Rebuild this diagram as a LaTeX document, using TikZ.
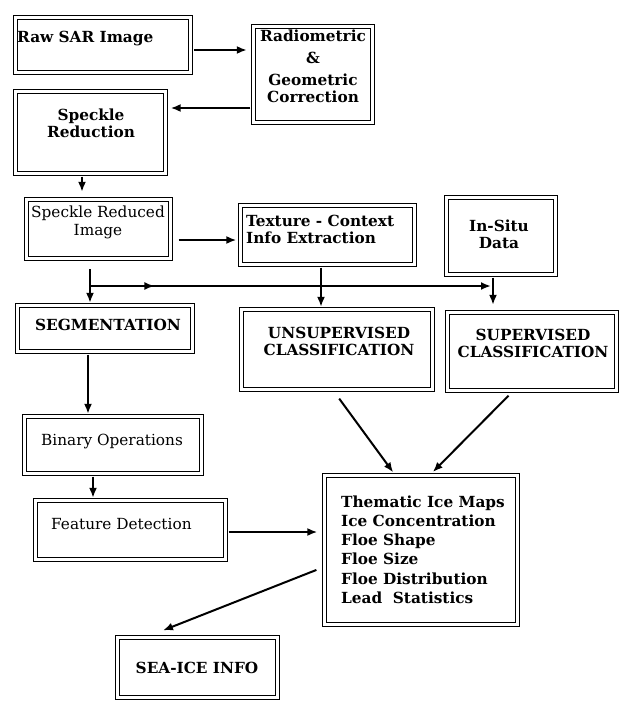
\documentclass[tikz,border=0pt]{standalone}
\usepackage{fontspec}
\setmainfont{DejaVu Serif}
\usetikzlibrary{fit,arrows.meta,decorations.markings}
\begin{document}
\begin{tikzpicture}[x=1pt,y=-1pt,
  box/.style={draw=black, double=white, line width=1.3pt, double distance=2.2pt, inner sep=0pt},
  tb/.style={inner sep=0pt, anchor=base, font=\bfseries\fontsize{15.3}{17}\selectfont},
  tr/.style={inner sep=0pt, anchor=base, font=\fontsize{15.3}{18}\selectfont},
  arr/.style={line width=2pt, -{Latex[length=10pt,width=8pt]}},
  plain/.style={line width=2pt}
]
\useasboundingbox[fill=white] (0,0) rectangle (621,701);

% boxes
\node[box, fit={(15.5,17.5) (190.5,72.5)}] (raw) {};
\node[box, fit={(253.5,26.5) (372.5,122.5)}] (radio) {};
\node[box, fit={(15.5,91.5) (165.5,173.5)}] (speck) {};
\node[box, fit={(26.5,199.5) (170.5,258.5)}] (sri) {};
\node[box, fit={(240.5,205.5) (414.5,264.5)}] (tex) {};
\node[box, fit={(446.5,197.5) (555.5,274.5)}] (insitu) {};
\node[box, fit={(17.5,305.5) (192.5,351.5)}] (seg) {};
\node[box, fit={(241.5,309.5) (432.5,389.5)}] (unsup) {};
\node[box, fit={(447.5,312.5) (616.5,390.5)}] (sup) {};
\node[box, fit={(24.5,416.5) (201.5,473.5)}] (bin) {};
\node[box, fit={(35.5,500.5) (225.5,559.5)}] (feat) {};
\node[box, fit={(324.5,475.5) (517.5,624.5)}] (them) {};
\node[box, fit={(117.5,637.5) (277.5,697.5)}] (sea) {};

% texts (multi-line nodes: base = last line's baseline)
\node[tb, anchor=base west] (traw) at (17,43) {Raw SAR Image};
\node[tb, align=center] (tradio) at (313,102) {Radiometric\\[5pt]\&\\[5pt]Geometric\\Correction};
\node[tb, align=center] (tspeck) at (91,137) {Speckle\\Reduction};
\node[tr, align=center] (tsri) at (98,235) {Speckle Reduced\\Image};
\node[tb, align=left, anchor=base west] (ttex) at (246,243) {Texture - Context\\Info Extraction};
\node[tb, align=center] (tinsitu) at (499,248) {In-Situ\\Data};
\node[tb] (tseg) at (108,330) {SEGMENTATION};
\node[tb, align=center] (tunsup) at (339,355) {UNSUPERVISED\\CLASSIFICATION};
\node[tb, align=center] (tsup) at (533,357) {SUPERVISED\\CLASSIFICATION};
\node[tr] (tbin) at (112,445) {Binary Operations};
\node[tr, anchor=base west] (tfeat) at (51,529) {Feature Detection};
\node[tb, align=left, anchor=base west, font=\bfseries\fontsize{15.3}{19.3}\selectfont] (tthem) at (341,603.5)
  {Thematic Ice Maps\\Ice Concentration\\Floe Shape\\Floe Size\\Floe Distribution\\Lead\ \ Statistics};
\node[tb] (tsea) at (197,673) {SEA-ICE INFO};

% connectors
\draw[arr, shorten <=3pt, shorten >=6pt] (raw.east |- 0,50) -- (radio.west |- 0,50);
\draw[arr, shorten <=2.5pt, shorten >=4.5pt] (radio.west |- 0,108) -- (speck.east |- 0,108);
\draw[arr, shorten <=2.5pt, shorten >=7pt] (82,0 |- speck.south) -- (82,0 |- sri.north);
\draw[arr, shorten <=7.5pt, shorten >=3.5pt] (sri.east |- 0,240) -- (tex.west |- 0,240);
\draw[arr, shorten <=10pt, shorten >=2pt] (90,0 |- sri.south) -- (90,0 |- seg.north);
\coordinate (split) at (90,286);
\coordinate (merge) at (493,286);
\draw[arr, shorten >=2pt, postaction={decorate},
  decoration={markings, mark=at position 0.16 with {\arrow{Latex[length=10pt,width=8pt]}}}]
  (split) -- (merge);
\draw[arr, shorten <=2.5pt, shorten >=2pt] (321,0 |- tex.south) -- (321,0 |- unsup.north);
\draw[arr, shorten <=2.5pt, shorten >=7pt] (493,0 |- insitu.south) -- (493,0 |- sup.north);
\draw[arr, shorten <=2.5pt, shorten >=2pt] (88,0 |- seg.south) -- (88,0 |- bin.north);
\draw[arr, shorten <=2.5pt, shorten >=2pt] (93,0 |- bin.south) -- (93,0 |- feat.north);
\draw[arr, shorten <=2.5pt, shorten >=6.5pt] (feat.east |- 0,532) -- (them.west |- 0,532);
\draw[arr, shorten <=10.5pt, shorten >=3pt] (333,0 |- unsup.south) -- (395,0 |- them.north);
\draw[arr, shorten <=6.3pt, shorten >=4pt] (513,0 |- sup.south) -- (430,0 |- them.north);
\draw[arr, shorten <=8pt, shorten >=17.6pt] (them.west |- 0,567) -- (146.6,0 |- sea.north);
\end{tikzpicture}
\end{document}
